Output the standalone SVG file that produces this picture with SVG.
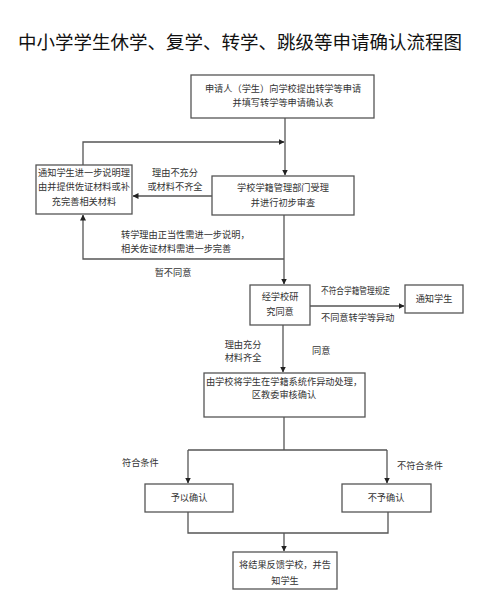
<svg xmlns="http://www.w3.org/2000/svg" width="480" height="603" viewBox="0 0 480 603">
<defs>
<marker id="ah" markerWidth="6" markerHeight="6" refX="5.5" refY="3" orient="auto" markerUnits="userSpaceOnUse">
<path d="M0,0 L6,3 L0,6 Z" fill="#222"/>
</marker>
<style>
.t{font-family:"Noto Sans CJK SC","Liberation Sans",sans-serif;font-size:18.5px;fill:#111;text-anchor:middle}
.b{fill:#fff;stroke:#555;stroke-width:1.3}
.x{font-family:"Noto Sans CJK SC","Liberation Sans",sans-serif;font-size:9.2px;fill:#333;text-anchor:middle}
.l{font-family:"Noto Sans CJK SC","Liberation Sans",sans-serif;font-size:9.2px;fill:#333}
.c{fill:none;stroke:#555;stroke-width:1.3}
</style>
</defs>
<rect width="480" height="603" fill="#fff"/>
<text class="t" x="240" y="49">中小学学生休学、复学、转学、跳级等申请确认流程图</text>
<g id="connectors">
<path class="c" d="M285,118 V175" marker-end="url(#ah)"/>
<path class="c" d="M83,165 V142 H284" marker-end="url(#ah)"/>
<path class="c" d="M212,196 H133" marker-end="url(#ah)"/>
<path class="c" d="M284,215 V284" marker-end="url(#ah)"/>
<path class="c" d="M284,259 H83 V215" marker-end="url(#ah)"/>
<path class="c" d="M310,306 H404" marker-end="url(#ah)"/>
<path class="c" d="M283,325 V372" marker-end="url(#ah)"/>
<path class="c" d="M284,417 V450"/>
<path class="c" d="M188,450 H387"/>
<path class="c" d="M188,450 V483" marker-end="url(#ah)"/>
<path class="c" d="M387,450 V483" marker-end="url(#ah)"/>
<path class="c" d="M188,512 V533 H388 V512"/>
<path class="c" d="M284,533 V551" marker-end="url(#ah)"/>
<text class="x" x="175" y="176">理由不充分</text>
<text class="x" x="175" y="190">或材料不齐全</text>
<text class="l" x="121" y="238">转学理由正当性需进一步说明，</text>
<text class="l" x="121" y="252">相关佐证材料需进一步完善</text>
<text class="x" x="173" y="276">暂不同意</text>
<text class="l" x="321" y="294" textLength="69" lengthAdjust="spacingAndGlyphs">不符合学籍管理规定</text>
<text class="l" x="321" y="321">不同意转学等异动</text>
<text class="x" x="243" y="348">理由充分</text>
<text class="x" x="243" y="361">材料齐全</text>
<text class="l" x="312" y="354">同意</text>
<text class="l" x="122" y="466">符合条件</text>
<text class="l" x="397" y="469">不符合条件</text>
</g>
<g id="n1"><rect class="b" x="191" y="75" width="183" height="43"/>
<text class="x" x="283" y="92">申请人（学生）向学校提出转学等申请</text>
<text class="x" x="283" y="106">并填写转学等申请确认表</text></g>
<g id="n2"><rect class="b" x="212" y="176" width="142" height="39"/>
<text class="x" x="283" y="191">学校学籍管理部门受理</text>
<text class="x" x="283" y="206">并进行初步审查</text></g>
<g id="n3"><rect class="b" x="36" y="165" width="96" height="49"/>
<text class="x" x="84" y="176">通知学生进一步说明理</text>
<text class="x" x="84" y="190">由并提供佐证材料或补</text>
<text class="x" x="84" y="205">充完善相关材料</text></g>
<g id="n4"><rect class="b" x="250" y="285" width="60" height="40"/>
<text class="x" x="280" y="300">经学校研</text>
<text class="x" x="280" y="315">究同意</text></g>
<g id="n5"><rect class="b" x="405" y="285" width="58" height="28"/>
<text class="x" x="434" y="302">通知学生</text></g>
<g id="n6"><rect class="b" x="204" y="373" width="161" height="44"/>
<text class="x" x="284" y="385">由学校将学生在学籍系统作异动处理，</text>
<text class="x" x="284" y="398">区教委审核确认</text></g>
<g id="n7"><rect class="b" x="145" y="484" width="88" height="28"/>
<text class="x" x="189" y="501">予以确认</text></g>
<g id="n8"><rect class="b" x="342" y="484" width="89" height="28"/>
<text class="x" x="386" y="501">不予确认</text></g>
<g id="n9"><rect class="b" x="233" y="552" width="104" height="37"/>
<text class="x" x="285" y="568">将结果反馈学校，并告</text>
<text class="x" x="285" y="584">知学生</text></g>
</svg>
